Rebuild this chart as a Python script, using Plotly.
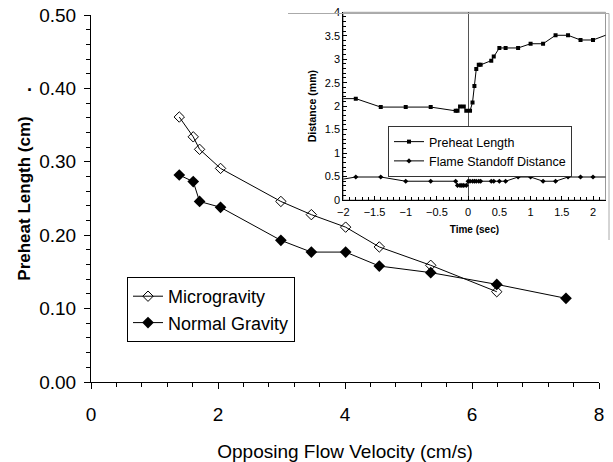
import plotly.graph_objects as go

# Main chart data
micro_x = [1.39, 1.61, 1.71, 2.04, 2.99, 3.47, 4.01, 4.54, 5.35, 6.39]
micro_y = [0.361, 0.334, 0.317, 0.291, 0.246, 0.228, 0.211, 0.184, 0.159, 0.123]
normal_x = [1.39, 1.61, 1.71, 2.04, 2.99, 3.47, 4.01, 4.54, 5.35, 6.39, 7.48]
normal_y = [0.282, 0.273, 0.246, 0.238, 0.193, 0.177, 0.177, 0.158, 0.149, 0.133, 0.114]

# Inset data
preheat_t = [-2.2, -1.8, -1.4, -1.0, -0.6, -0.2, -0.17, -0.13, -0.07, -0.03, 0.03, 0.07, 0.10,
             0.13, 0.17, 0.20, 0.37, 0.41, 0.5, 0.6, 0.8, 1.0, 1.2, 1.4, 1.6, 1.8, 2.0, 2.4]
preheat_mm = [2.16, 2.16, 1.98, 1.98, 1.98, 1.90, 1.90, 1.99, 1.99, 1.90, 1.90, 2.08, 2.43,
              2.79, 2.88, 2.88, 2.97, 3.06, 3.24, 3.24, 3.24, 3.33, 3.33, 3.51, 3.51, 3.41, 3.41, 3.61]
standoff_t = [-2.2, -1.8, -1.4, -1.0, -0.6, -0.2, -0.17, -0.13, -0.1, -0.07, -0.03, 0.0, 0.03, 0.07,
              0.1, 0.13, 0.17, 0.2, 0.37, 0.41, 0.5, 0.6, 0.8, 1.0, 1.2, 1.4, 1.6, 1.8, 2.0, 2.4]
standoff_mm = [0.40, 0.49, 0.49, 0.40, 0.40, 0.40, 0.31, 0.31, 0.31, 0.31, 0.31, 0.40, 0.40, 0.40,
               0.40, 0.40, 0.40, 0.40, 0.40, 0.40, 0.40, 0.40, 0.49, 0.49, 0.40, 0.40, 0.49, 0.49, 0.49, 0.49]

FONT = "Arial, Liberation Sans, sans-serif"

fig = go.Figure()
fig.add_trace(go.Scatter(x=micro_x, y=micro_y, mode="lines+markers", name="Microgravity",
                         line=dict(color="black", width=1),
                         marker=dict(symbol="diamond-open", size=8, color="black", line=dict(width=1)),
                         legend="legend"))
fig.add_trace(go.Scatter(x=normal_x, y=normal_y, mode="lines+markers", name="Normal Gravity",
                         line=dict(color="black", width=1),
                         marker=dict(symbol="diamond", size=9, color="black"),
                         legend="legend"))
fig.add_trace(go.Scatter(x=preheat_t, y=preheat_mm, mode="lines+markers", name="Preheat Length",
                         xaxis="x2", yaxis="y2", line=dict(color="black", width=1),
                         marker=dict(symbol="square", size=4, color="black"),
                         legend="legend2"))
fig.add_trace(go.Scatter(x=standoff_t, y=standoff_mm, mode="lines+markers", name="Flame Standoff Distance",
                         xaxis="x2", yaxis="y2", line=dict(color="black", width=1),
                         marker=dict(symbol="diamond", size=4, color="black"),
                         legend="legend2"))

W, H = 613, 462
ml, mr, mt, mb = 91, 4, 10, 80
pw, ph = W - ml - mr, H - mt - mb

def px_x(p):
    return (p - ml) / pw

def px_y(p):
    return (H - mb - p) / ph

fig.update_layout(
    width=W, height=H,
    margin=dict(l=ml, r=mr, t=mt, b=mb, pad=0, autoexpand=False),
    paper_bgcolor="white", plot_bgcolor="rgba(0,0,0,0)",
    font=dict(family=FONT, color="black"),
    xaxis=dict(domain=[0, px_x(599)], range=[0, 8], dtick=2, showgrid=False, zeroline=False,
               automargin=False,
               showline=True, linecolor="black", linewidth=1,
               ticks="outside", ticklen=6, tickcolor="black", ticklabelstandoff=9,
               minor=dict(dtick=0.4, ticks="outside", ticklen=4, tickcolor="black"),
               tickfont=dict(size=19),
               title=dict(text="Opposing Flow Velocity (cm/s)", font=dict(size=19), standoff=21)),
    yaxis=dict(domain=[0, px_y(15)], range=[0, 0.5], dtick=0.1, tickformat=".2f", showgrid=False,
               automargin=False,
               zeroline=False, showline=True, linecolor="black", linewidth=1,
               ticks="outside", ticklen=6, tickcolor="black", ticklabelstandoff=4,
               minor=dict(dtick=0.02, ticks="outside", ticklen=4, tickcolor="black"),
               tickfont=dict(size=19),
               title=dict(text="<b>Preheat Length (cm)</b>", font=dict(size=17), standoff=4)),
    xaxis2=dict(domain=[px_x(343.3), px_x(605.5)], range=[-2, 2.2], anchor="y2", dtick=0.5,
                automargin=False,
                showgrid=False, zeroline=True, zerolinecolor="#555555", zerolinewidth=1,
                showline=True, linecolor="black", linewidth=1,
                ticks="inside", ticklen=4, tickcolor="black", ticklabelstandoff=2,
                minor=dict(dtick=0.1, ticks="inside", ticklen=3, tickcolor="black"),
                tickfont=dict(size=11),
                title=dict(text="<b>Time (sec)</b>", font=dict(size=10), standoff=8)),
    yaxis2=dict(domain=[px_y(200), px_y(12.3)], range=[0, 4], anchor="x2", dtick=0.5,
                automargin=False,
                showgrid=False, zeroline=False, showline=True, linecolor="black", linewidth=1,
                ticks="inside", ticklen=4, tickcolor="black",
                minor=dict(dtick=0.1, ticks="inside", ticklen=3, tickcolor="black"),
                tickfont=dict(size=11),
                title=dict(text="<b>Distance (mm)</b>", font=dict(size=10.5), standoff=6)),
    legend=dict(x=px_x(127), y=px_y(277), xanchor="left", yanchor="top",
                bordercolor="black", borderwidth=1, bgcolor="rgba(255,255,255,0)",
                font=dict(size=18), tracegroupgap=0, itemwidth=30),
    legend2=dict(x=px_x(388), y=px_y(126), xanchor="left", yanchor="top",
                 bordercolor="#333333", borderwidth=1, bgcolor="white",
                 font=dict(size=12.5), tracegroupgap=0, itemwidth=30),
    showlegend=True,
)

# Inset frame (gray top/right) and chart-area border lines
fig.add_shape(type="rect", xref="x2 domain", yref="y2 domain", x0=0, x1=1, y0=0, y1=1,
              line=dict(color="#999999", width=1), layer="below")
fig.add_shape(type="line", xref="paper", yref="paper", x0=px_x(288), x1=px_x(609),
              y0=px_y(13.5), y1=px_y(13.5), line=dict(color="#aaaaaa", width=1))
fig.add_shape(type="line", xref="paper", yref="paper", x0=px_x(609), x1=px_x(609),
              y0=px_y(13.5), y1=px_y(240), line=dict(color="#aaaaaa", width=1))

fig.add_annotation(text="<b>.</b>", xref="paper", yref="paper", x=px_x(29), y=px_y(85),
                   xanchor="center", yanchor="middle",
                   showarrow=False, font=dict(size=18))

fig.write_html("out.html", config={"displayModeBar": False},
               post_script="document.body.style.margin='0px';")
